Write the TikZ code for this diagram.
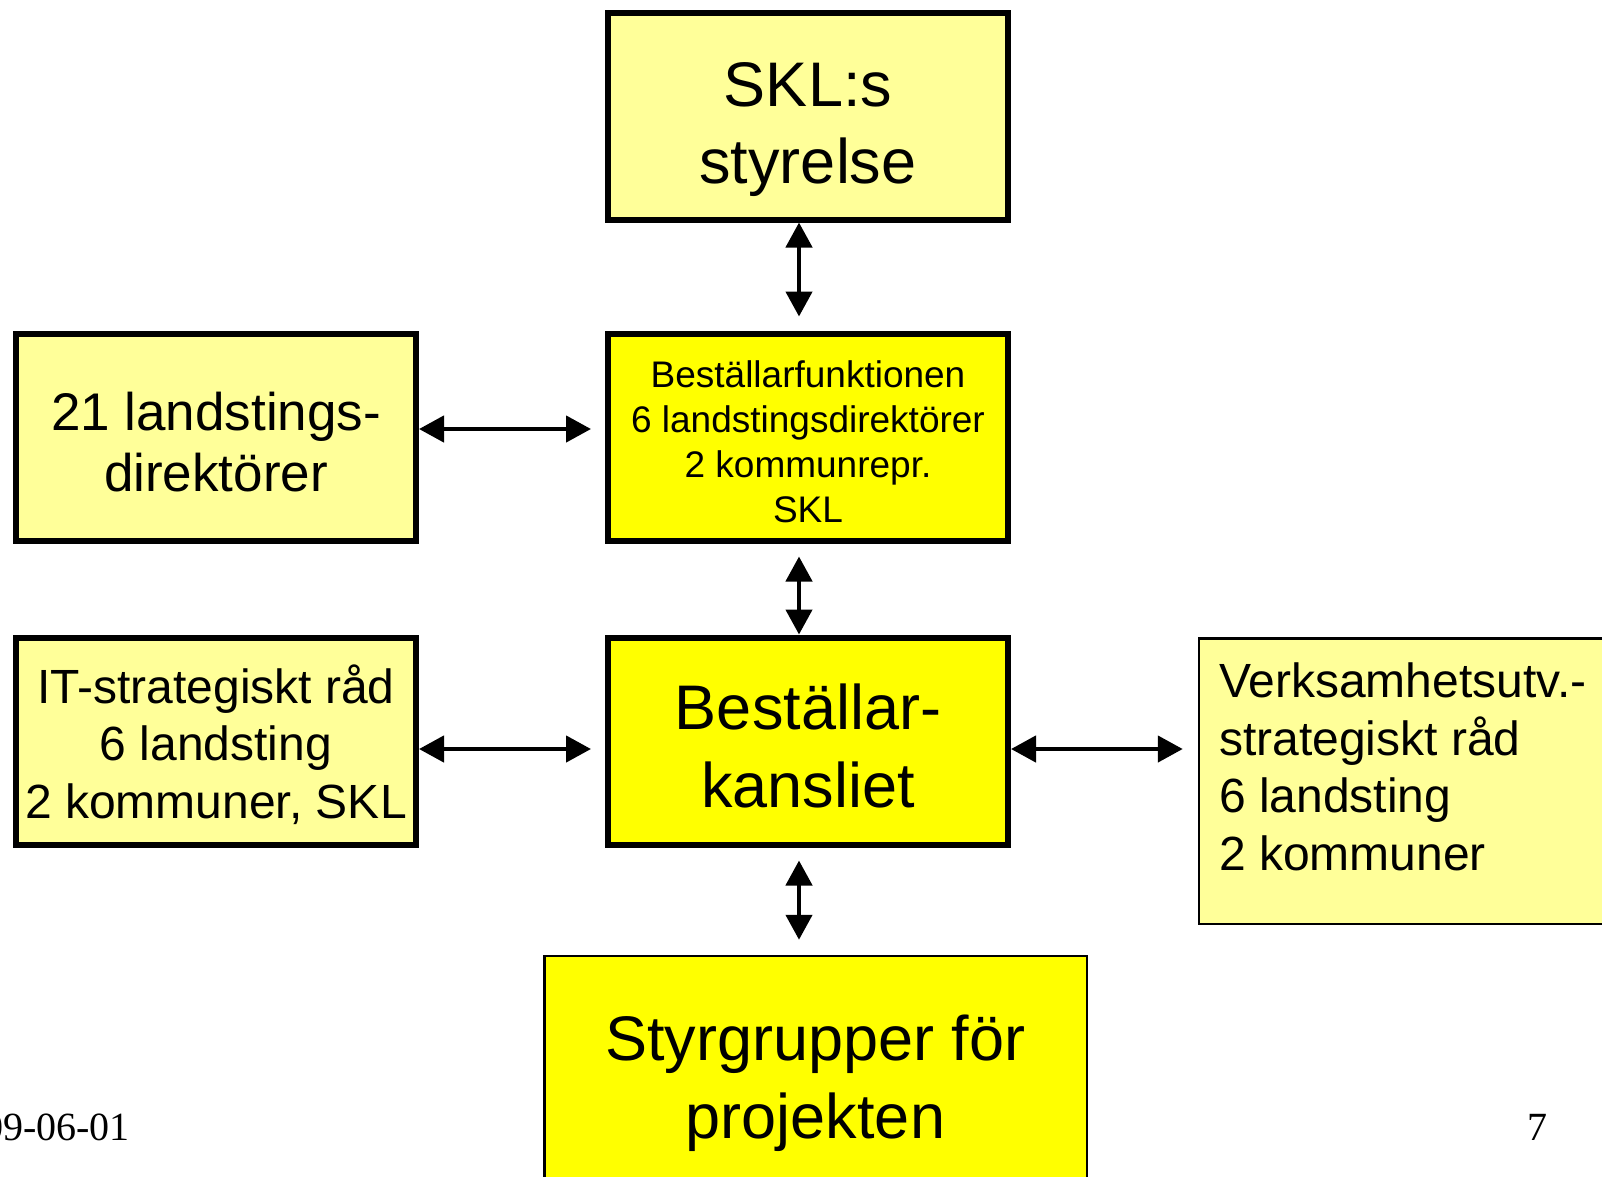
\documentclass[tikz,border=0pt]{standalone}
\usepackage{fontspec}
\setmainfont{Liberation Sans}
\newfontfamily\datefont{Liberation Serif}
\usetikzlibrary{arrows.meta}
\definecolor{paleyellow}{HTML}{FFFF99}
\definecolor{brightyellow}{HTML}{FFFF00}
\newcommand{\lift}[1]{\rule{0pt}{#1}}
\begin{document}
\begin{tikzpicture}[x=1pt, y=-1pt,
        thickbox/.style={draw, line width=6pt, minimum width=400pt, minimum height=207pt, inner sep=2pt, align=center},
        thinbox/.style={draw, line width=2.5pt, inner sep=0pt, align=center},
        link/.style={{Triangle[length=25pt,width=26pt]}-{Triangle[length=25pt,width=26pt]}, line width=4.5pt}]
        \useasboundingbox (0,0) rectangle (1602,1176);
        \node[thickbox, fill=paleyellow, font=\fontsize{63}{77}\selectfont] (skl) at (808,116) {\lift{72pt}SKL:s\\styrelse};
        \node[thickbox, fill=brightyellow, font=\fontsize{37}{45}\selectfont] (funk) at (808,437) {\lift{35.5pt}Beställarfunktionen\\6 landstingsdirektörer\\2 kommunrepr.\\SKL};
        \node[thickbox, fill=paleyellow, font=\fontsize{53}{61}\selectfont] (land) at (216,437) {\lift{49pt}21 landstings-\\direktörer};
        \node[thickbox, fill=paleyellow, font=\fontsize{48}{57.5}\selectfont] (it) at (216,741) {\lift{45.5pt}IT-strategiskt råd\\6 landsting\\2 kommuner, SKL};
        \node[thickbox, fill=brightyellow, font=\fontsize{63}{78}\selectfont] (kans) at (808,741) {\lift{56.5pt}Beställar-\\kansliet};
        \node[thinbox, fill=paleyellow, minimum width=500pt, minimum height=285.5pt] (verks) at (1449,781) {};
        \node[anchor=north west, inner sep=0pt, align=left, font=\fontsize{48}{57.5}\selectfont] (verkstext) at (1219,663) {Verksamhetsutv.-\\strategiskt råd\\6 landsting\\2 kommuner};
        \node[thinbox, fill=brightyellow, minimum width=542.5pt, minimum height=254pt, font=\fontsize{63}{78}\selectfont] (styr) at (815.5,1083) {Styrgrupper för\\projekten};
        \node[anchor=base west, inner sep=0pt, font=\datefont\fontsize{40}{48}\selectfont] (date) at (-17,1140) {09-06-01};
        \node[anchor=base west, inner sep=0pt, font=\datefont\fontsize{40}{48}\selectfont] (page) at (1527,1140) {7};
        \coordinate (kansdown) at ([xshift=-9pt]kans.south);
        \coordinate (kansright) at ([yshift=-8pt]kans.east);
        \draw[link, shorten >=14pt] ([xshift=-9pt]skl.south) -- ([xshift=-9pt]funk.north);
        \draw[link, shorten <=13pt] ([xshift=-9pt]funk.south) -- ([xshift=-9pt]kans.north);
        \draw[link, shorten <=13pt, shorten >=15pt] (kansdown) -- (kansdown |- styr.north);
        \draw[link, shorten >=14pt] ([yshift=8pt]land.east) -- ([yshift=8pt]funk.west);
        \draw[link, shorten >=14pt] ([yshift=-8pt]it.east) -- ([yshift=-8pt]kans.west);
        \draw[link, shorten >=15pt] (kansright) -- (kansright -| verks.west);
\end{tikzpicture}
\end{document}
